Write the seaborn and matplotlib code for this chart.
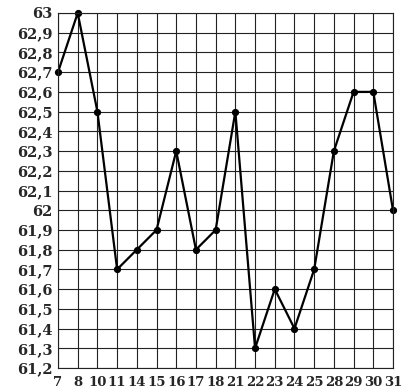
import matplotlib
matplotlib.use("Agg")
import matplotlib.pyplot as plt
import seaborn as sns
import pandas as pd

days = ["7", "8", "10", "11", "14", "15", "16", "17", "18", "21", "22", "23", "24", "25", "28", "29", "30", "31"]
values = [62.7, 63.0, 62.5, 61.7, 61.8, 61.9, 62.3, 61.8, 61.9, 62.5, 61.3, 61.6, 61.4, 61.7, 62.3, 62.6, 62.6, 62.0]
yticks = [61.2 + 0.1 * i for i in range(19)]
ytick_labels = [str(int(round(v))) if abs(v - round(v)) < 1e-9 else f"{v:.1f}".replace(".", ",") for v in yticks]

sns.set_style("white")
plt.rcParams["font.family"] = ["DejaVu Serif"]

df = pd.DataFrame({"day": days, "value": values})

fig = plt.figure(figsize=(4.05, 3.92), dpi=100)
ax = fig.add_axes([58 / 405, 24 / 392, 335 / 405, 355 / 392])

sns.pointplot(data=df, x="day", y="value", order=days, color="black",
              markers="o", markersize=4, linewidth=1.6, ax=ax)
for c in ax.collections + ax.lines:
    c.set_clip_on(False)

ax.set_xlim(0, len(days) - 1)
ax.set_ylim(61.2, 63.0)
ax.set_yticks(yticks)
ax.set_yticklabels(ytick_labels, fontsize=10.5, fontweight="bold")
ax.set_xticks(range(len(days)))
ax.set_xticklabels(days, fontsize=9.5, fontweight="bold")
ax.tick_params(axis="y", length=0, pad=4)
ax.tick_params(axis="x", length=0, pad=6)
ax.grid(True, color="#222222", linewidth=0.8)
ax.set_axisbelow(True)
for s in ax.spines.values():
    s.set_visible(True)
    s.set_color("#222222")
    s.set_linewidth(0.8)
ax.set_xlabel("")
ax.set_ylabel("")

fig.savefig("out.png", dpi=100)
